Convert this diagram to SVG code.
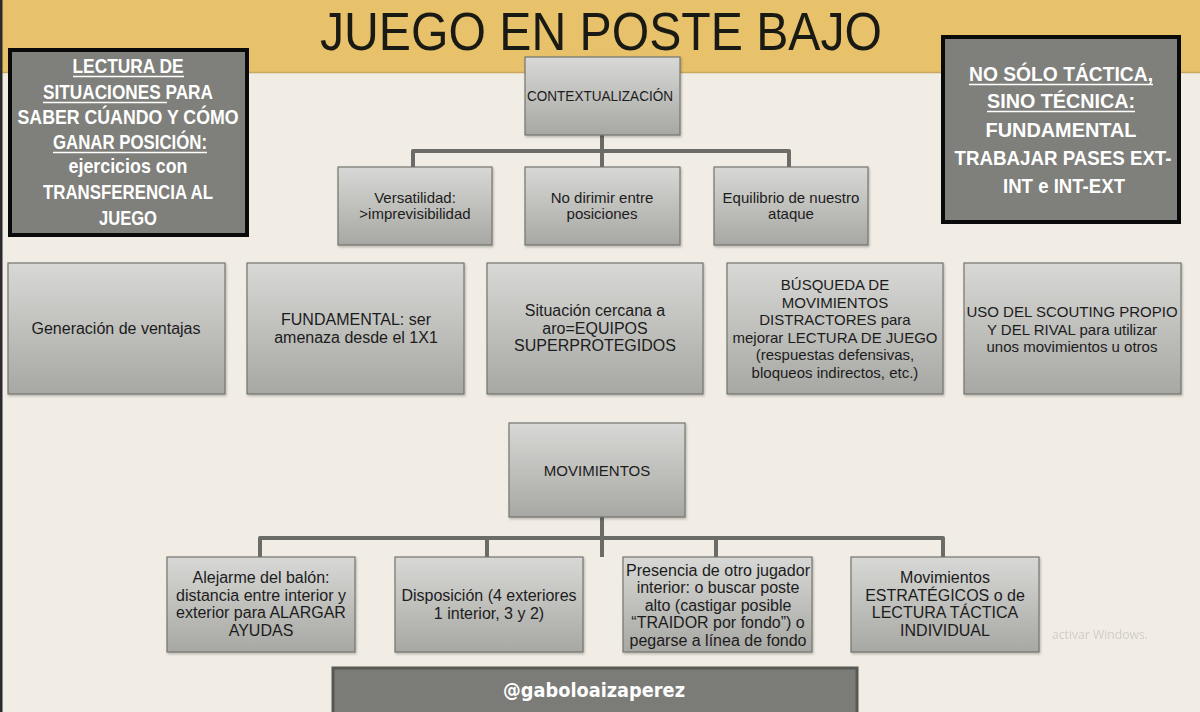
<svg xmlns="http://www.w3.org/2000/svg" width="1200" height="712" viewBox="0 0 1200 712">
<defs>
<linearGradient id="boxg" x1="0" y1="0" x2="0" y2="1">
<stop offset="0" stop-color="#d8d8d6"/>
<stop offset="1" stop-color="#a7a7a3"/>
</linearGradient>
<filter id="sh" x="-5%" y="-5%" width="112%" height="115%">
<feDropShadow dx="1" dy="1.5" stdDeviation="1" flood-color="#000" flood-opacity="0.25"/>
</filter>
</defs>
<style>
.box{fill:url(#boxg);stroke:#74746f;stroke-width:1.2;filter:url(#sh)}
.dark{fill:#7f7f7b;stroke:#0a0a0a;stroke-width:4}
.t{font-family:"Liberation Sans",Arial,sans-serif;font-size:15px;fill:#1c1c1c;text-anchor:middle}
.t16{font-size:16px}
.w{font-family:"Liberation Sans Narrow","Liberation Sans",Arial,sans-serif;font-weight:bold;font-size:20.5px;fill:#ffffff;text-anchor:middle}
.ul{stroke:#ffffff;stroke-width:1.3}
.conn{fill:none;stroke:#6b6b67;stroke-width:4;stroke-linejoin:round;stroke-linecap:butt}
</style>
<rect x="0" y="0" width="1200" height="712" fill="#f1ede5"/>
<rect x="0" y="0" width="1200" height="72" fill="#e8c16b"/>
<line x1="0" y1="72.5" x2="1200" y2="72.5" stroke="#c9a75e" stroke-width="1.5"/>
<rect x="0" y="0" width="2.5" height="712" fill="#2b2b2b"/>
<text x="601" y="50" font-family="'Liberation Sans Narrow','Liberation Sans',Arial,sans-serif" font-size="53" fill="#1a1a14" text-anchor="middle" textLength="562" lengthAdjust="spacingAndGlyphs">JUEGO EN POSTE BAJO</text>

<g id="connectors">
<path class="conn" d="M602 135 V167 M413 167 V151 H789 V167"/>
<path class="conn" d="M602 517 V557 M260 557 V538 H943 V557 M487 538 V557 M716 538 V557"/>
</g>

<g id="lectura">
<rect class="dark" x="10" y="50" width="237" height="185"/>
<text class="w" x="128" y="73" textLength="111" lengthAdjust="spacingAndGlyphs">LECTURA DE</text>
<line class="ul" x1="73" y1="76.5" x2="184" y2="76.5"/>
<text class="w" x="128" y="99" textLength="170" lengthAdjust="spacingAndGlyphs">SITUACIONES PARA</text>
<line class="ul" x1="43" y1="102.5" x2="167" y2="102.5"/>
<text class="w" x="128" y="124" textLength="221" lengthAdjust="spacingAndGlyphs">SABER CÚANDO Y CÓMO</text>
<text class="w" x="130" y="149" textLength="154" lengthAdjust="spacingAndGlyphs">GANAR POSICIÓN:</text>
<line class="ul" x1="53" y1="152.5" x2="207" y2="152.5"/>
<text class="w" x="128" y="173" textLength="119" lengthAdjust="spacingAndGlyphs">ejercicios con</text>
<text class="w" x="128" y="199" textLength="170" lengthAdjust="spacingAndGlyphs">TRANSFERENCIA AL</text>
<text class="w" x="128" y="225" textLength="58" lengthAdjust="spacingAndGlyphs">JUEGO</text>
</g>

<g id="tecnica">
<rect class="dark" x="943" y="37" width="236" height="185"/>
<text class="w" x="1061" y="81" textLength="184" lengthAdjust="spacingAndGlyphs">NO SÓLO TÁCTICA,</text>
<line class="ul" x1="969" y1="84.5" x2="1153" y2="84.5"/>
<text class="w" x="1061" y="108" textLength="148" lengthAdjust="spacingAndGlyphs">SINO TÉCNICA:</text>
<line class="ul" x1="987" y1="111.5" x2="1135" y2="111.5"/>
<text class="w" x="1061" y="137" textLength="151" lengthAdjust="spacingAndGlyphs">FUNDAMENTAL</text>
<text class="w" x="1063" y="165" textLength="217" lengthAdjust="spacingAndGlyphs">TRABAJAR PASES EXT-</text>
<text class="w" x="1064" y="193" textLength="122" lengthAdjust="spacingAndGlyphs">INT e INT-EXT</text>
</g>

<g id="contextualizacion">
<rect class="box" x="525" y="57" width="155" height="78"/>
<text class="t" x="600" y="101" font-size="13.5" textLength="146" lengthAdjust="spacingAndGlyphs">CONTEXTUALIZACIÓN</text>
</g>

<g id="versatilidad">
<rect class="box" x="338" y="167" width="154" height="78"/>
<text class="t" x="415" y="203">Versatilidad:</text>
<text class="t" x="415" y="219">&gt;imprevisibilidad</text>
</g>
<g id="dirimir">
<rect class="box" x="525" y="167" width="155" height="78"/>
<text class="t" x="602" y="203">No dirimir entre</text>
<text class="t" x="602" y="219">posiciones</text>
</g>
<g id="equilibrio">
<rect class="box" x="714" y="167" width="154" height="78"/>
<text class="t" x="791" y="203">Equilibrio de nuestro</text>
<text class="t" x="791" y="219">ataque</text>
</g>

<g id="ventajas">
<rect class="box" x="8" y="263" width="217" height="131"/>
<text class="t t16" x="116" y="334">Generación de ventajas</text>
</g>
<g id="fundamental">
<rect class="box" x="247" y="263" width="217" height="131"/>
<text class="t t16" x="356" y="325">FUNDAMENTAL: ser</text>
<text class="t t16" x="356" y="343">amenaza desde el 1X1</text>
</g>
<g id="situacion">
<rect class="box" x="487" y="263" width="216" height="131"/>
<text class="t t16" x="595" y="316">Situación cercana a</text>
<text class="t t16" x="595" y="334">aro=EQUIPOS</text>
<text class="t t16" x="595" y="351">SUPERPROTEGIDOS</text>
</g>
<g id="busqueda">
<rect class="box" x="727" y="263" width="216" height="131"/>
<text class="t" x="835" y="290">BÚSQUEDA DE</text>
<text class="t" x="835" y="307.5">MOVIMIENTOS</text>
<text class="t" x="835" y="325">DISTRACTORES para</text>
<text class="t" x="835" y="342.5">mejorar LECTURA DE JUEGO</text>
<text class="t" x="835" y="360">(respuestas defensivas,</text>
<text class="t" x="835" y="377.5">bloqueos indirectos, etc.)</text>
</g>
<g id="scouting">
<rect class="box" x="964" y="263" width="217" height="131"/>
<text class="t" x="1072" y="317">USO DEL SCOUTING PROPIO</text>
<text class="t" x="1072" y="334.5">Y DEL RIVAL para utilizar</text>
<text class="t" x="1072" y="352">unos movimientos u otros</text>
</g>

<g id="movimientos">
<rect class="box" x="509" y="423" width="176" height="94"/>
<text class="t" x="597" y="476">MOVIMIENTOS</text>
</g>

<g id="alejarme">
<rect class="box" x="167" y="557" width="188" height="95"/>
<text class="t t16" x="261" y="583">Alejarme del balón:</text>
<text class="t t16" x="261" y="600.5">distancia entre interior y</text>
<text class="t t16" x="261" y="618">exterior para ALARGAR</text>
<text class="t t16" x="261" y="635.5">AYUDAS</text>
</g>
<g id="disposicion">
<rect class="box" x="395" y="557" width="188" height="95"/>
<text class="t t16" x="489" y="601">Disposición (4 exteriores</text>
<text class="t t16" x="489" y="618.5">1 interior, 3 y 2)</text>
</g>
<g id="presencia">
<rect class="box" x="623" y="557" width="189" height="95"/>
<text class="t t16" x="718" y="575.5" textLength="184" lengthAdjust="spacingAndGlyphs">Presencia de otro jugador</text>
<text class="t t16" x="718" y="593">interior: o buscar poste</text>
<text class="t t16" x="718" y="610.5">alto (castigar posible</text>
<text class="t t16" x="718" y="628">“TRAIDOR por fondo”) o</text>
<text class="t t16" x="718" y="645.5">pegarse a línea de fondo</text>
</g>
<g id="estrategicos">
<rect class="box" x="851" y="557" width="188" height="95"/>
<text class="t t16" x="945" y="583">Movimientos</text>
<text class="t t16" x="945" y="600.5">ESTRATÉGICOS o de</text>
<text class="t t16" x="945" y="618">LECTURA TÁCTICA</text>
<text class="t t16" x="945" y="635.5">INDIVIDUAL</text>
</g>

<g id="watermark" opacity="0.5">
<text x="1052" y="639" font-family="'Open Sans','Liberation Sans',sans-serif" font-size="13" fill="#b0ada8" textLength="96" lengthAdjust="spacingAndGlyphs">activar Windows.</text>
</g>

<g id="footer">
<rect x="333" y="668" width="524" height="50" fill="#7b7b77" stroke="#585855" stroke-width="3"/>
<text x="594" y="697" font-family="'DejaVu Sans','Liberation Sans',sans-serif" font-weight="bold" font-size="19" fill="#ffffff" text-anchor="middle" textLength="182" lengthAdjust="spacingAndGlyphs">@gaboloaizaperez</text>
</g>
</svg>
